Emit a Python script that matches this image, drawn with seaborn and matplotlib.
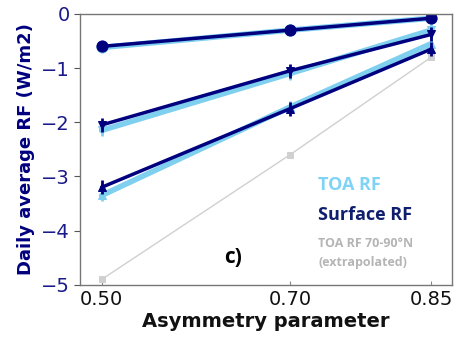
import seaborn as sns
import pandas as pd
import matplotlib.pyplot as plt

asym = [0.50, 0.70, 0.85]
asym_labels = ['0.50', '0.70', '0.85']

# TOA RF (light) and surface RF (dark), three cases
toa_1 = [-0.62, -0.30, -0.08]
toa_2 = [-2.15, -1.10, -0.30]
toa_3 = [-3.35, -1.72, -0.55]
sfc_1 = [-0.60, -0.30, -0.08]
sfc_2 = [-2.05, -1.05, -0.38]
sfc_3 = [-3.20, -1.75, -0.65]
toa_arctic = [-4.90, -2.60, -0.80]

light = '#7fcfee'
dark = '#00007f'
grey = '#d0d0d0'

sns.set_style('white')
plt.rcParams['font.family'] = ['DejaVu Sans']

fig = plt.figure(figsize=(4.62, 3.47), dpi=100)
ax = fig.add_axes([0.173, 0.179, 0.805, 0.781])

sns.lineplot(x=asym, y=toa_arctic, color=grey, lw=1, marker='s', ms=4,
             markeredgecolor=grey, ax=ax)
for vals, m in [(toa_1, 'o'), (toa_2, 'v'), (toa_3, '^')]:
    sns.lineplot(x=asym, y=vals, color=light, lw=4, marker=m,
                 ms=8 if m == 'o' else 6, markeredgecolor=light, ax=ax)
    if m != 'o':
        ax.plot(asym, vals, ls='none', marker='|', ms=9, mew=2, color=light)
for vals, m in [(sfc_1, 'o'), (sfc_2, 'v'), (sfc_3, '^')]:
    sns.lineplot(x=asym, y=vals, color=dark, lw=2.5, marker=m,
                 ms=8 if m == 'o' else 6, markeredgecolor=dark, ax=ax)
    if m != 'o':
        ax.plot(asym, vals, ls='none', marker='|', ms=10, mew=2, color=dark)

ax.set_xlim(0.477, 0.872)
ax.set_ylim(-5, 0)
ax.set_xticks(asym)
ax.set_xticklabels(asym_labels)
ax.set_yticks([0, -1, -2, -3, -4, -5])
ax.tick_params(axis='y', labelsize=14, labelcolor='#1a1a8a', length=4, color='#555555', left=True)
ax.tick_params(axis='x', labelsize=14, labelcolor='#111111', length=3, direction='in', color='#888888', bottom=True)
for s in ax.spines.values():
    s.set_color('#777777')
    s.set_linewidth(1)

ax.set_xlabel('Asymmetry parameter', fontsize=14, fontweight='bold', color='#111111', labelpad=2)
ax.set_ylabel('Daily average RF (W/m2)', fontsize=13, fontweight='bold', color=dark, labelpad=4)

ax.text(0.730, -3.16, 'TOA RF', color='#7fd4f5', fontsize=13, fontweight='bold',
        family='Open Sans', va='center')
ax.text(0.730, -3.71, 'Surface RF', color='#0f1f6e', fontsize=13, fontweight='bold',
        family='Open Sans', va='center')
ax.text(0.730, -4.24, 'TOA RF 70-90°N', color='#b5b5b5', fontsize=9, fontweight='bold',
        family='Open Sans', va='center')
ax.text(0.730, -4.58, '(extrapolated)', color='#b5b5b5', fontsize=9, fontweight='bold',
        family='Open Sans', va='center')
ax.text(0.64, -4.5, 'c)', color='black', fontsize=15, fontweight='bold',
        family='Open Sans', ha='center', va='center')

plt.savefig('out.png', dpi=100)
